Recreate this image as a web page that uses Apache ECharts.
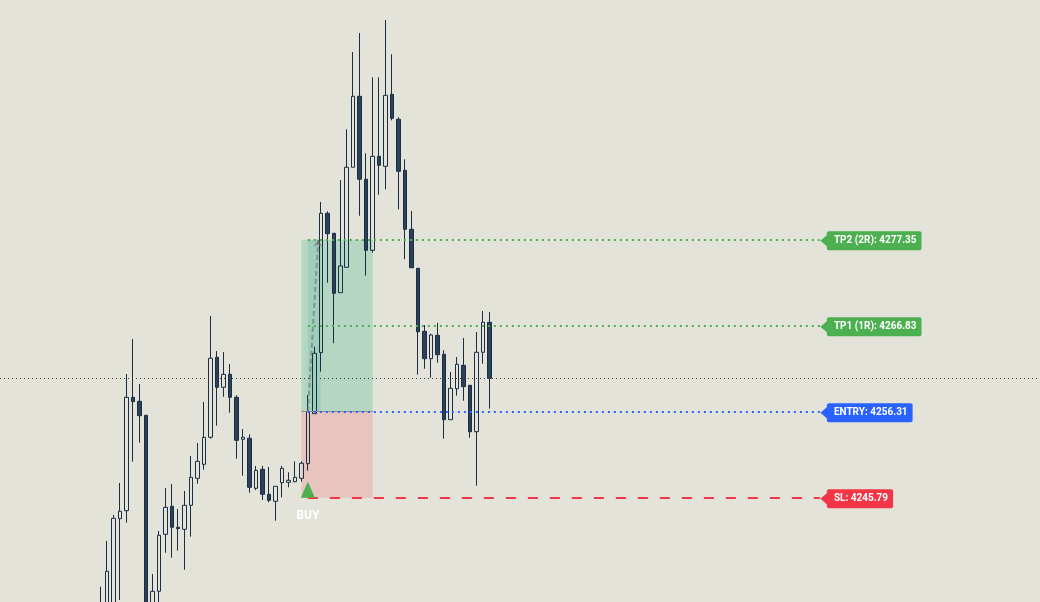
<!DOCTYPE html>
<html>
<head>
<meta charset="utf-8">
<script src="https://cdn.jsdelivr.net/npm/echarts@6/dist/echarts.min.js"></script>
<style>
html,body{margin:0;padding:0;background:#e3e3da;}
#chart{width:1040px;height:602px;}
</style>
</head>
<body>
<div id="chart"></div>
<script>
// ---- candle values (61 bars, oldest first) ----
const opens = [4227.16,4228.38,4232.66,4243.22,4244.20,4258.07,4257.58,4255.87,4232.05,4234.34,
  4241.31,4244.74,4242.17,4241.92,4244.86,4248.16,4249.87,4253.18,4262.96,4259.29,
  4260.88,4258.07,4252.93,4253.06,4246.94,4249.26,4246.21,4245.35,4247.62,4247.67,
  4247.75,4248.16,4249.95,4256.06,4263.53,4280.58,4278.13,4270.87,4273.97,4286.21,
  4294.89,4284.74,4276.05,4287.55,4286.33,4295.13,4292.08,4285.84,4278.62,4273.85,
  4266.14,4262.79,4265.65,4263.33,4255.33,4259.12,4261.98,4259.54,4253.86,4263.58,4267.24];
const closes = [4231.44,4236.79,4243.27,4244.13,4258.07,4257.53,4255.82,4228.38,4234.34,4241.19,
  4244.61,4242.17,4242.00,4244.86,4248.28,4250.24,4253.18,4262.84,4259.29,4260.88,
  4258.07,4252.81,4253.18,4247.06,4249.14,4246.21,4245.47,4247.18,4249.38,4247.92,
  4248.28,4250.00,4256.31,4263.45,4280.58,4278.08,4270.79,4274.13,4286.21,4294.89,
  4284.74,4276.05,4287.55,4286.45,4295.01,4292.20,4285.72,4278.62,4273.92,4266.09,
  4262.79,4265.69,4263.28,4255.33,4259.17,4262.11,4259.37,4253.86,4263.58,4267.24,4260.39];
const lows = [4225.94,4227.16,4231.81,4233.28,4242.73,4250.19,4252.52,4227.16,4231.44,4232.66,
  4239.06,4238.45,4239.31,4236.98,4241.02,4247.50,4249.21,4253.01,4254.60,4258.14,
  4256.19,4250.56,4248.48,4246.40,4246.73,4245.51,4245.23,4242.98,4245.84,4247.06,
  4247.67,4247.75,4249.09,4256.06,4261.20,4272.09,4264.68,4270.87,4273.97,4286.21,
  4280.28,4272.95,4275.76,4282.85,4283.51,4291.95,4281.07,4274.95,4273.92,4260.83,
  4261.57,4260.47,4262.30,4253.01,4255.33,4258.27,4257.65,4253.13,4247.26,4262.18,4256.68];
const highs = [4234.90,4240.49,4243.67,4247.59,4260.92,4265.20,4259.70,4255.87,4236.46,4241.72,
  4246.98,4247.47,4244.41,4246.61,4250.89,4252.48,4257.50,4268.02,4263.73,4263.61,
  4262.14,4258.32,4254.19,4253.54,4249.67,4249.67,4249.55,4247.18,4249.67,4248.90,
  4250.24,4250.24,4258.35,4264.26,4281.96,4280.82,4278.13,4284.65,4290.85,4300.31,
  4302.63,4287.92,4297.21,4297.21,4304.22,4300.03,4292.32,4287.18,4280.86,4273.85,
  4266.91,4265.85,4267.16,4263.82,4261.17,4263.00,4265.32,4259.54,4266.06,4268.63,4268.50];

// ---- trade levels ----
const levelNames  = ['TP2 (2R)', 'TP1 (1R)', 'ENTRY', 'SL'];
const levelValues = [4277.35, 4266.83, 4256.31, 4245.79];
const signalLabel = 'BUY';

// bar indices (relative to first candle) for the trade drawing
const zoneStartBar = 31, zoneEndBar = 42, entryBar = 32, targetHitBar = 34, arrowEndBar = 33.6, lineEndBar = 111;

// ---- layout / style ----
const FIRST_SLOT = 15, SLOT_COUNT = 160;
const levelColors = ['#4caf50', '#4caf50', '#2962ff', '#f23645'];
const levelDash = [[2, 4], [2, 4], [2, 4], [10, 12]];

const slots = Array.from({length: SLOT_COUNT}, (_, k) => String(k));
const candleData = slots.map((_, k) => {
  const i = k - FIRST_SLOT;
  return (i >= 0 && i < opens.length) ? [opens[i], closes[i], lows[i], highs[i]] : ['-', '-', '-', '-'];
});
const xv = bar => FIRST_SLOT + bar;
const lastClose = closes[closes.length - 1];
const [tp2, tp1, entry, sl] = levelValues;

const levelLines = levelValues.map((v, i) => [
  {
    xAxis: xv(entryBar), yAxis: v,
    lineStyle: {color: levelColors[i], type: levelDash[i], width: 2},
    label: {
      show: true, position: 'end', distance: 7, offset: [0, 1],
      formatter: levelNames[i] + ': ' + v.toFixed(2),
      color: '#ffffff', fontFamily: 'Roboto', fontWeight: 'bold', fontSize: 10, lineHeight: 11,
      backgroundColor: levelColors[i], padding: [4, 5, 4, 7], borderRadius: 2
    }
  },
  {xAxis: xv(lineEndBar), yAxis: v}
]);

const tagTips = levelValues.map((v, i) => ({
  xAxis: xv(lineEndBar), yAxis: v,
  symbol: 'path://M0,6 L7,0 L7,12 Z', symbolSize: [7, 12], symbolOffset: [4, 1],
  itemStyle: {color: levelColors[i]}, label: {show: false}
}));

const option = {
  backgroundColor: '#e3e3da',
  animation: false,
  grid: {left: -1, right: 3, top: 0, bottom: 0},
  xAxis: [
    {type: 'category', data: slots, boundaryGap: true, show: false},
    {type: 'value', min: -0.5, max: SLOT_COUNT - 0.5, show: false, splitLine: {show: false}}
  ],
  yAxis: {type: 'value', min: 4233.03, max: 4306.67, show: false, splitLine: {show: false}},
  series: [
    {
      name: 'zones', type: 'line', xAxisIndex: 1, data: [], z: 1, silent: true,
      markArea: {
        silent: true,
        data: [
          [{xAxis: xv(zoneStartBar), yAxis: entry, itemStyle: {color: '#b6d6c4'}}, {xAxis: xv(zoneEndBar), yAxis: tp2}],
          [{xAxis: xv(zoneStartBar), yAxis: sl, itemStyle: {color: '#e8c4be'}}, {xAxis: xv(zoneEndBar), yAxis: entry}],
          [{xAxis: xv(entryBar), yAxis: entry, itemStyle: {color: '#9fcfba'}}, {xAxis: xv(targetHitBar), yAxis: tp2}]
        ]
      },
      markLine: {
        silent: true, symbol: 'none',
        label: {show: false},
        data: [
          {yAxis: lastClose, lineStyle: {color: '#3a3a3a', type: [1, 3], width: 1}},
          [{xAxis: xv(zoneStartBar), yAxis: entry, lineStyle: {color: '#8c8c8c', type: 'solid', width: 1}}, {xAxis: xv(zoneEndBar), yAxis: entry}],
          [{xAxis: xv(entryBar), yAxis: entry, lineStyle: {color: 'rgba(110,110,110,0.6)', type: [5, 3], width: 2}},
           {xAxis: xv(arrowEndBar), yAxis: tp2, symbol: 'arrow', symbolSize: 7}]
        ]
      }
    },
    {
      name: 'price', type: 'candlestick', xAxisIndex: 0, data: candleData, z: 3,
      barWidth: 4, clip: true,
      itemStyle: {
        color: 'rgba(0,0,0,0)', borderColor: '#1b2e44',
        color0: '#2b4159', borderColor0: '#1b2e44', borderWidth: 1
      }
    },
    {
      name: 'levels', type: 'line', xAxisIndex: 1, data: [], z: 4, silent: true,
      markLine: {silent: true, symbol: 'none', label: {show: false}, data: levelLines},
      markPoint: {
        silent: true,
        data: tagTips.concat([{
          xAxis: xv(entryBar), yAxis: sl,
          symbol: 'triangle', symbolSize: [14, 16], symbolOffset: [0, -8],
          itemStyle: {color: '#4caf50'},
          label: {show: true, position: 'bottom', distance: 11, formatter: signalLabel,
                  color: '#ffffff', fontFamily: 'Roboto', fontWeight: 'bold', fontSize: 12, lineHeight: 14}
        }])
      }
    }
  ]
};

const chart = echarts.init(document.getElementById('chart'), null, {renderer: 'canvas'});
chart.setOption(option);
</script>
</body>
</html>
